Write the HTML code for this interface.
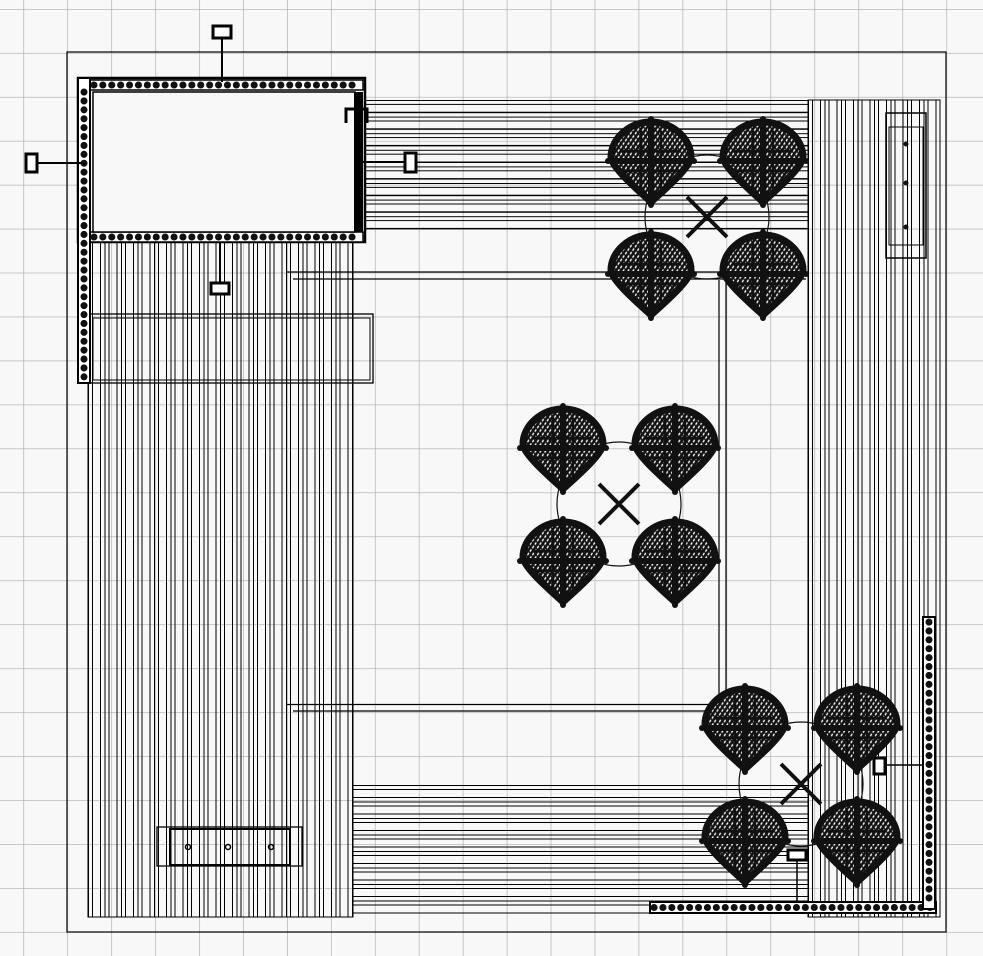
<!DOCTYPE html>
<html><head><meta charset="utf-8"><style>
html,body{margin:0;padding:0;background:#f8f8f8;}
svg{display:block;}
</style></head><body>
<svg width="983" height="956" viewBox="0 0 983 956" xmlns="http://www.w3.org/2000/svg">
<defs>
<pattern id="grid" x="23.3" y="9" width="43.95" height="43.95" patternUnits="userSpaceOnUse">
<path d="M0 0V44M0 0H44" stroke="#ababab" stroke-width="1.3" fill="none"/>
</pattern>
<pattern id="vb" x="88" y="0" width="16.5" height="2000" patternUnits="userSpaceOnUse">
<path d="M0.5 0V2000M4.5 0V2000M12.5 0V2000" stroke="#000" stroke-width="1.2" fill="none" shape-rendering="crispEdges"/>
</pattern>
<pattern id="vb2" x="808" y="0" width="16.5" height="2000" patternUnits="userSpaceOnUse">
<path d="M0.5 0V2000M4.5 0V2000M12.5 0V2000" stroke="#000" stroke-width="1.2" fill="none" shape-rendering="crispEdges"/>
</pattern>
<pattern id="hb" x="0" y="100" width="2000" height="16.6" patternUnits="userSpaceOnUse">
<path d="M0 0.5H2000M0 4.5H2000M0 12.5H2000" stroke="#000" stroke-width="1.2" fill="none" shape-rendering="crispEdges"/>
</pattern>
<pattern id="hb2" x="0" y="785" width="2000" height="16.5" patternUnits="userSpaceOnUse">
<path d="M0 0.5H2000M0 4.5H2000M0 12.5H2000" stroke="#000" stroke-width="1.2" fill="none" shape-rendering="crispEdges"/>
</pattern>
<pattern id="hatch" width="4" height="4" patternUnits="userSpaceOnUse" patternTransform="rotate(35)">
<rect width="4" height="4" fill="#fff"/>
<path d="M1.5 0V4" stroke="#111" stroke-width="2.6"/>
</pattern>
<pattern id="hatch2" width="4" height="4" patternUnits="userSpaceOnUse" patternTransform="rotate(-35)">
<path d="M1.5 0V4" stroke="#111" stroke-width="1.5"/>
</pattern>
<g id="plant">
<path d="M0 -39 C22 -39 40 -22 40 -4 C40 6 12 30 0 41 C-12 30 -40 6 -40 -4 C-40 -22 -22 -39 0 -39Z" fill="url(#hatch)" stroke="#111" stroke-width="7"/>
<path d="M0 -39 C22 -39 40 -22 40 -4 C40 6 12 30 0 41 C-12 30 -40 6 -40 -4 C-40 -22 -22 -39 0 -39Z" fill="url(#hatch2)"/>
<path d="M0 -40V42M-40 0H40" stroke="#111" stroke-width="6"/>
<path d="M-30 -10H30M-10 -30V30M10 -30V30M-30 10H30" stroke="#111" stroke-width="2.5"/>
<circle cx="0" cy="-42" r="3" fill="#111"/><circle cx="0" cy="44" r="3" fill="#111"/>
<circle cx="-43" cy="0" r="3" fill="#111"/><circle cx="43" cy="0" r="3" fill="#111"/>
</g>
<g id="cluster">
<circle cx="0" cy="0" r="62" fill="none" stroke="#111" stroke-width="1.2"/>
<path d="M-20 -20L20 20M20 -20L-20 20" stroke="#111" stroke-width="4"/>
<use href="#plant" x="-56" y="-56"/><use href="#plant" x="56" y="-56"/>
<use href="#plant" x="-56" y="57"/><use href="#plant" x="56" y="57"/>
</g>
</defs>
<rect width="983" height="956" fill="#f8f8f8"/>
<rect width="983" height="956" fill="url(#grid)"/>
<rect x="67" y="52" width="879" height="880" fill="none" stroke="#000" stroke-width="1.2"/>
<rect x="88" y="242" width="265" height="675" fill="url(#vb)"/>
<rect x="88" y="242" width="265" height="675" fill="none" stroke="#000" stroke-width="1"/>
<rect x="366" y="100" width="442" height="132" fill="url(#hb)"/>
<rect x="353" y="785" width="455" height="132" fill="url(#hb2)"/>
<rect x="808" y="100" width="132" height="817" fill="url(#vb2)"/>
<rect x="808" y="100" width="132" height="817" fill="none" stroke="#000" stroke-width="1"/>
<path d="M287 272H806M293 279H806M287 704.5H722M293 711H722M719 280V705M726 280V705" stroke="#000" stroke-width="1.2" fill="none"/>
<rect x="90" y="314" width="283" height="69" fill="none" stroke="#000" stroke-width="1.3"/>
<rect x="93" y="318" width="277" height="62" fill="none" stroke="#000" stroke-width="1"/>
<rect x="157" y="827" width="145" height="39" fill="none" stroke="#000" stroke-width="1.3"/>
<rect x="170" y="829" width="120" height="36" fill="none" stroke="#000" stroke-width="2"/>
<circle cx="188" cy="847" r="2.5" fill="none" stroke="#000" stroke-width="1.5"/>
<circle cx="228" cy="847" r="2.5" fill="none" stroke="#000" stroke-width="1.5"/>
<circle cx="271" cy="847" r="2.5" fill="none" stroke="#000" stroke-width="1.5"/>
<rect x="886" y="113" width="40" height="145" fill="none" stroke="#000" stroke-width="1.5"/>
<rect x="889" y="127" width="34" height="118" fill="none" stroke="#000" stroke-width="1"/>
<circle cx="906" cy="144" r="2.5" fill="#111"/><circle cx="906" cy="183" r="2.5" fill="#111"/><circle cx="906" cy="227" r="2.5" fill="#111"/>
<!-- pool -->
<rect x="78" y="78" width="287" height="164" fill="#f8f8f8" stroke="#000" stroke-width="2.5"/>
<rect x="81" y="80" width="282" height="10" fill="#fff" stroke="#000" stroke-width="1.5"/>
<rect x="81" y="232" width="282" height="10" fill="#fff" stroke="#000" stroke-width="1.5"/>
<path d="M85 85H360M85 237H360" stroke="#111" stroke-width="7" stroke-dasharray="0.1 8.8" stroke-linecap="round"/>
<rect x="78" y="78" width="12" height="305" fill="#fff" stroke="#000" stroke-width="2"/>
<path d="M84 92V380" stroke="#111" stroke-width="7" stroke-dasharray="0.1 8.8" stroke-linecap="round"/>
<rect x="93" y="92" width="262" height="140" fill="#f8f8f8" stroke="#000" stroke-width="1.5"/>
<rect x="354" y="92" width="9" height="140" fill="#000"/>
<path d="M346 123V109H360V123M367 123V109H360" stroke="#000" stroke-width="3" fill="none"/>
<path d="M222 38V82M36 163H82M363 162H408M220 242V286" stroke="#000" stroke-width="2"/>
<rect x="213" y="26" width="18" height="12" fill="#fff" stroke="#000" stroke-width="3"/>
<rect x="26" y="154" width="11" height="18" fill="#fff" stroke="#000" stroke-width="3"/>
<rect x="405" y="153" width="11" height="19" fill="#fff" stroke="#000" stroke-width="3"/>
<rect x="211" y="283" width="18" height="11" fill="#fff" stroke="#000" stroke-width="3"/>
<rect x="650" y="902" width="286" height="11" fill="#fff" stroke="#000" stroke-width="2"/>
<path d="M654 907.5H933" stroke="#111" stroke-width="7" stroke-dasharray="0.1 8.8" stroke-linecap="round"/>
<rect x="923" y="617" width="12" height="292" fill="#fff" stroke="#000" stroke-width="2"/>
<path d="M929 622V905" stroke="#111" stroke-width="7" stroke-dasharray="0.1 8.8" stroke-linecap="round"/>
<path d="M884 765H924M797 858V903" stroke="#000" stroke-width="1.5"/>
<rect x="874" y="758" width="11" height="16" fill="#fff" stroke="#000" stroke-width="3"/>
<rect x="788" y="850" width="18" height="10" fill="#fff" stroke="#000" stroke-width="3"/>
<use href="#cluster" x="707" y="217"/>
<use href="#cluster" x="619" y="504"/>
<use href="#cluster" x="801" y="784"/>
</svg>
</body></html>
